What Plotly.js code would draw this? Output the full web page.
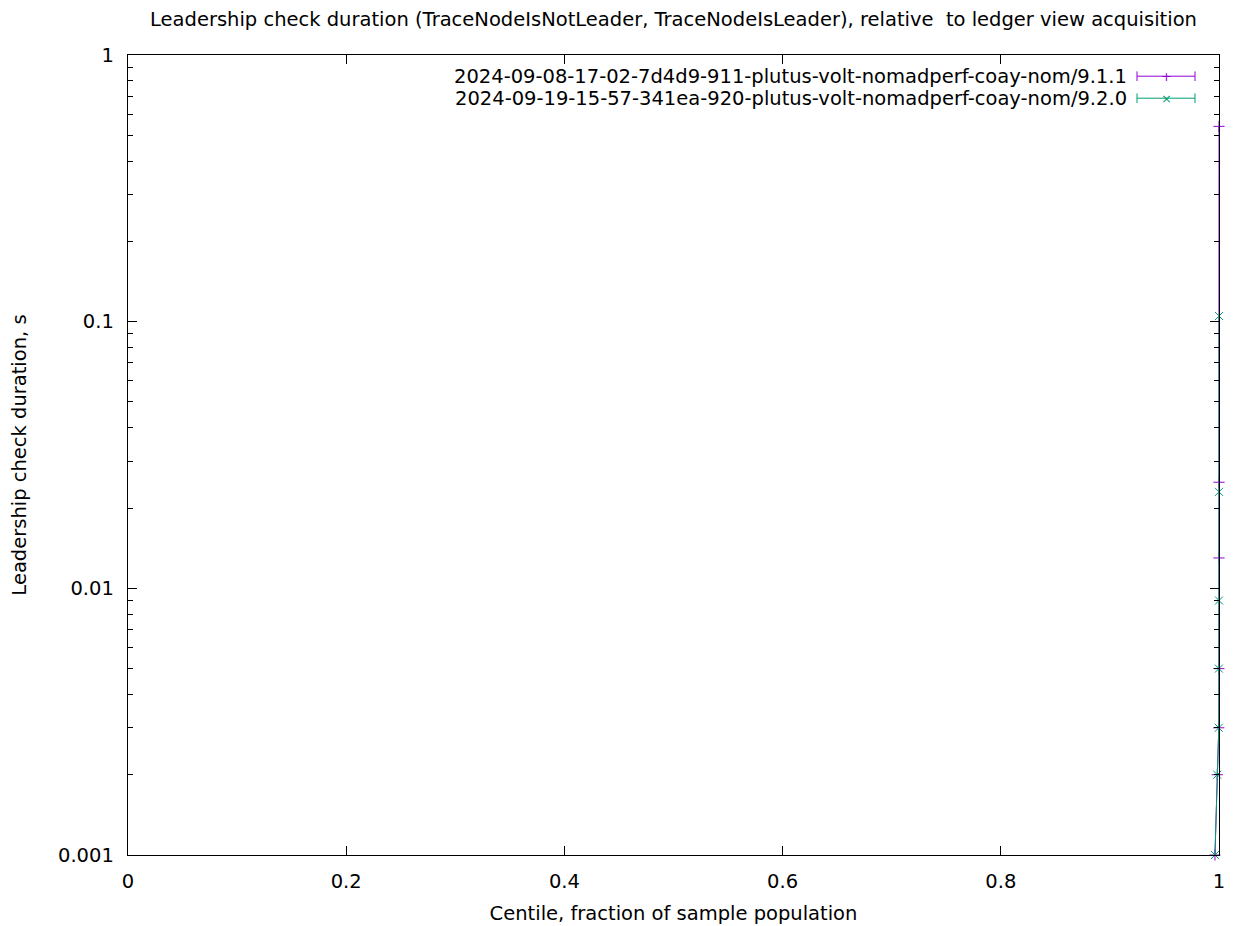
<!DOCTYPE html>
<html>
<head>
<meta charset="utf-8">
<script src="https://cdn.plot.ly/plotly-3.0.1.min.js"></script>
<style>html,body{margin:0;padding:0;background:#fff;}#chart{width:1237px;height:926px;}</style>
</head>
<body>
<div id="chart"></div>
<script>
const seriesNames = [
  "2024-09-08-17-02-7d4d9-911-plutus-volt-nomadperf-coay-nom/9.1.1",
  "2024-09-19-15-57-341ea-920-plutus-volt-nomadperf-coay-nom/9.2.0"
];
const centiles = [0.9963, 0.9984, 0.9998, 0.9999, 1.0, 1.0, 1.0];
const durations911 = [0.001, 0.002, 0.003, 0.005, 0.013, 0.025, 0.54];
const durations920 = [0.001, 0.002, 0.003, 0.005, 0.009, 0.023, 0.105];
const colors = ["#9400D3", "#009E73"];
const symbols = ["cross-thin", "x-thin"];
const legendGlyphs = ["+", "×"];
const titleText = "Leadership check duration (TraceNodeIsNotLeader, TraceNodeIsLeader), relative  to ledger view acquisition";
const xTitle = "Centile, fraction of sample population";
const yTitle = "Leadership check duration, s";

const font = "DejaVu Sans, sans-serif";
const fs = 19.5;
const allY = [durations911, durations920];
const traces = allY.map((ys, i) => ({
  x: centiles, y: ys, type: "scatter", mode: "lines+markers",
  name: seriesNames[i], showlegend: false,
  line: {color: colors[i], width: 1},
  marker: {symbol: symbols[i], size: 8, color: colors[i], line: {color: colors[i], width: 1}},
  cliponaxis: false
}));

// custom legend (gnuplot style: text then sample)
const shapes = [];
const annotations = [];
const legendTop = 0.9735, legendStep = 0.0275;
const sx0 = 1137, sx1 = 1195;
seriesNames.forEach((n, i) => {
  const yy = legendTop - i * legendStep;
  annotations.push({xref: "paper", yref: "paper", x: (1129 - 128) / 1091, y: yy, xanchor: "right", yanchor: "middle",
    text: n, showarrow: false, font: {family: font, size: fs, color: "#000"}});
  const px0 = (sx0 - 128) / 1091, px1 = (sx1 - 128) / 1091;
  shapes.push({type: "line", xref: "paper", yref: "paper", x0: px0, x1: px1, y0: yy, y1: yy, line: {color: colors[i], width: 1}});
  [px0, px1].forEach(px => shapes.push({type: "line", xref: "paper", yref: "paper", x0: px, x1: px, y0: yy - 0.006, y1: yy + 0.006, line: {color: colors[i], width: 1}}));
  annotations.push({xref: "paper", yref: "paper", x: (px0 + px1) / 2, y: yy, xanchor: "center", yanchor: "middle",
    text: legendGlyphs[i], showarrow: false, font: {family: font, size: 13, color: colors[i]}});
});

const layout = {
  width: 1237, height: 926,
  margin: {l: 128, r: 18, t: 55, b: 71},
  paper_bgcolor: "#fff", plot_bgcolor: "#fff",
  font: {family: font, size: fs, color: "#000"},
  title: {text: titleText, x: 0.5, xref: "paper", y: 1, yref: "container", yanchor: "top", pad: {t: 12}, font: {family: font, size: fs, color: "#000"}},
  xaxis: {
    range: [0, 1], tick0: 0, dtick: 0.2, showgrid: false, zeroline: false,
    showline: true, linecolor: "#000", linewidth: 1.3, mirror: "ticks", layer: "above traces",
    ticks: "inside", ticklen: 9, tickcolor: "#000", tickformat: "~g",
    ticklabelstandoff: 8,
    tickfont: {family: font, size: fs},
    title: {text: xTitle, font: {family: font, size: fs}, standoff: 14}
  },
  yaxis: {
    type: "log", range: [-3, 0], showgrid: false, zeroline: false,
    showline: true, linecolor: "#000", linewidth: 1.3, mirror: "ticks", layer: "above traces",
    ticks: "inside", ticklen: 9, tickcolor: "#000",
    tickvals: [0.001, 0.01, 0.1, 1], ticktext: ["0.001", "0.01", "0.1", "1"],
    ticklabelstandoff: 9,
    tickfont: {family: font, size: fs},
    minor: {ticks: "inside", ticklen: 5, tickcolor: "#000", showgrid: false, dtick: "D1"},
    title: {text: yTitle, font: {family: font, size: fs}, standoff: 26}
  },
  shapes: shapes,
  annotations: annotations
};
Plotly.newPlot("chart", traces, layout, {staticPlot: true, displayModeBar: false});
</script>
</body>
</html>
